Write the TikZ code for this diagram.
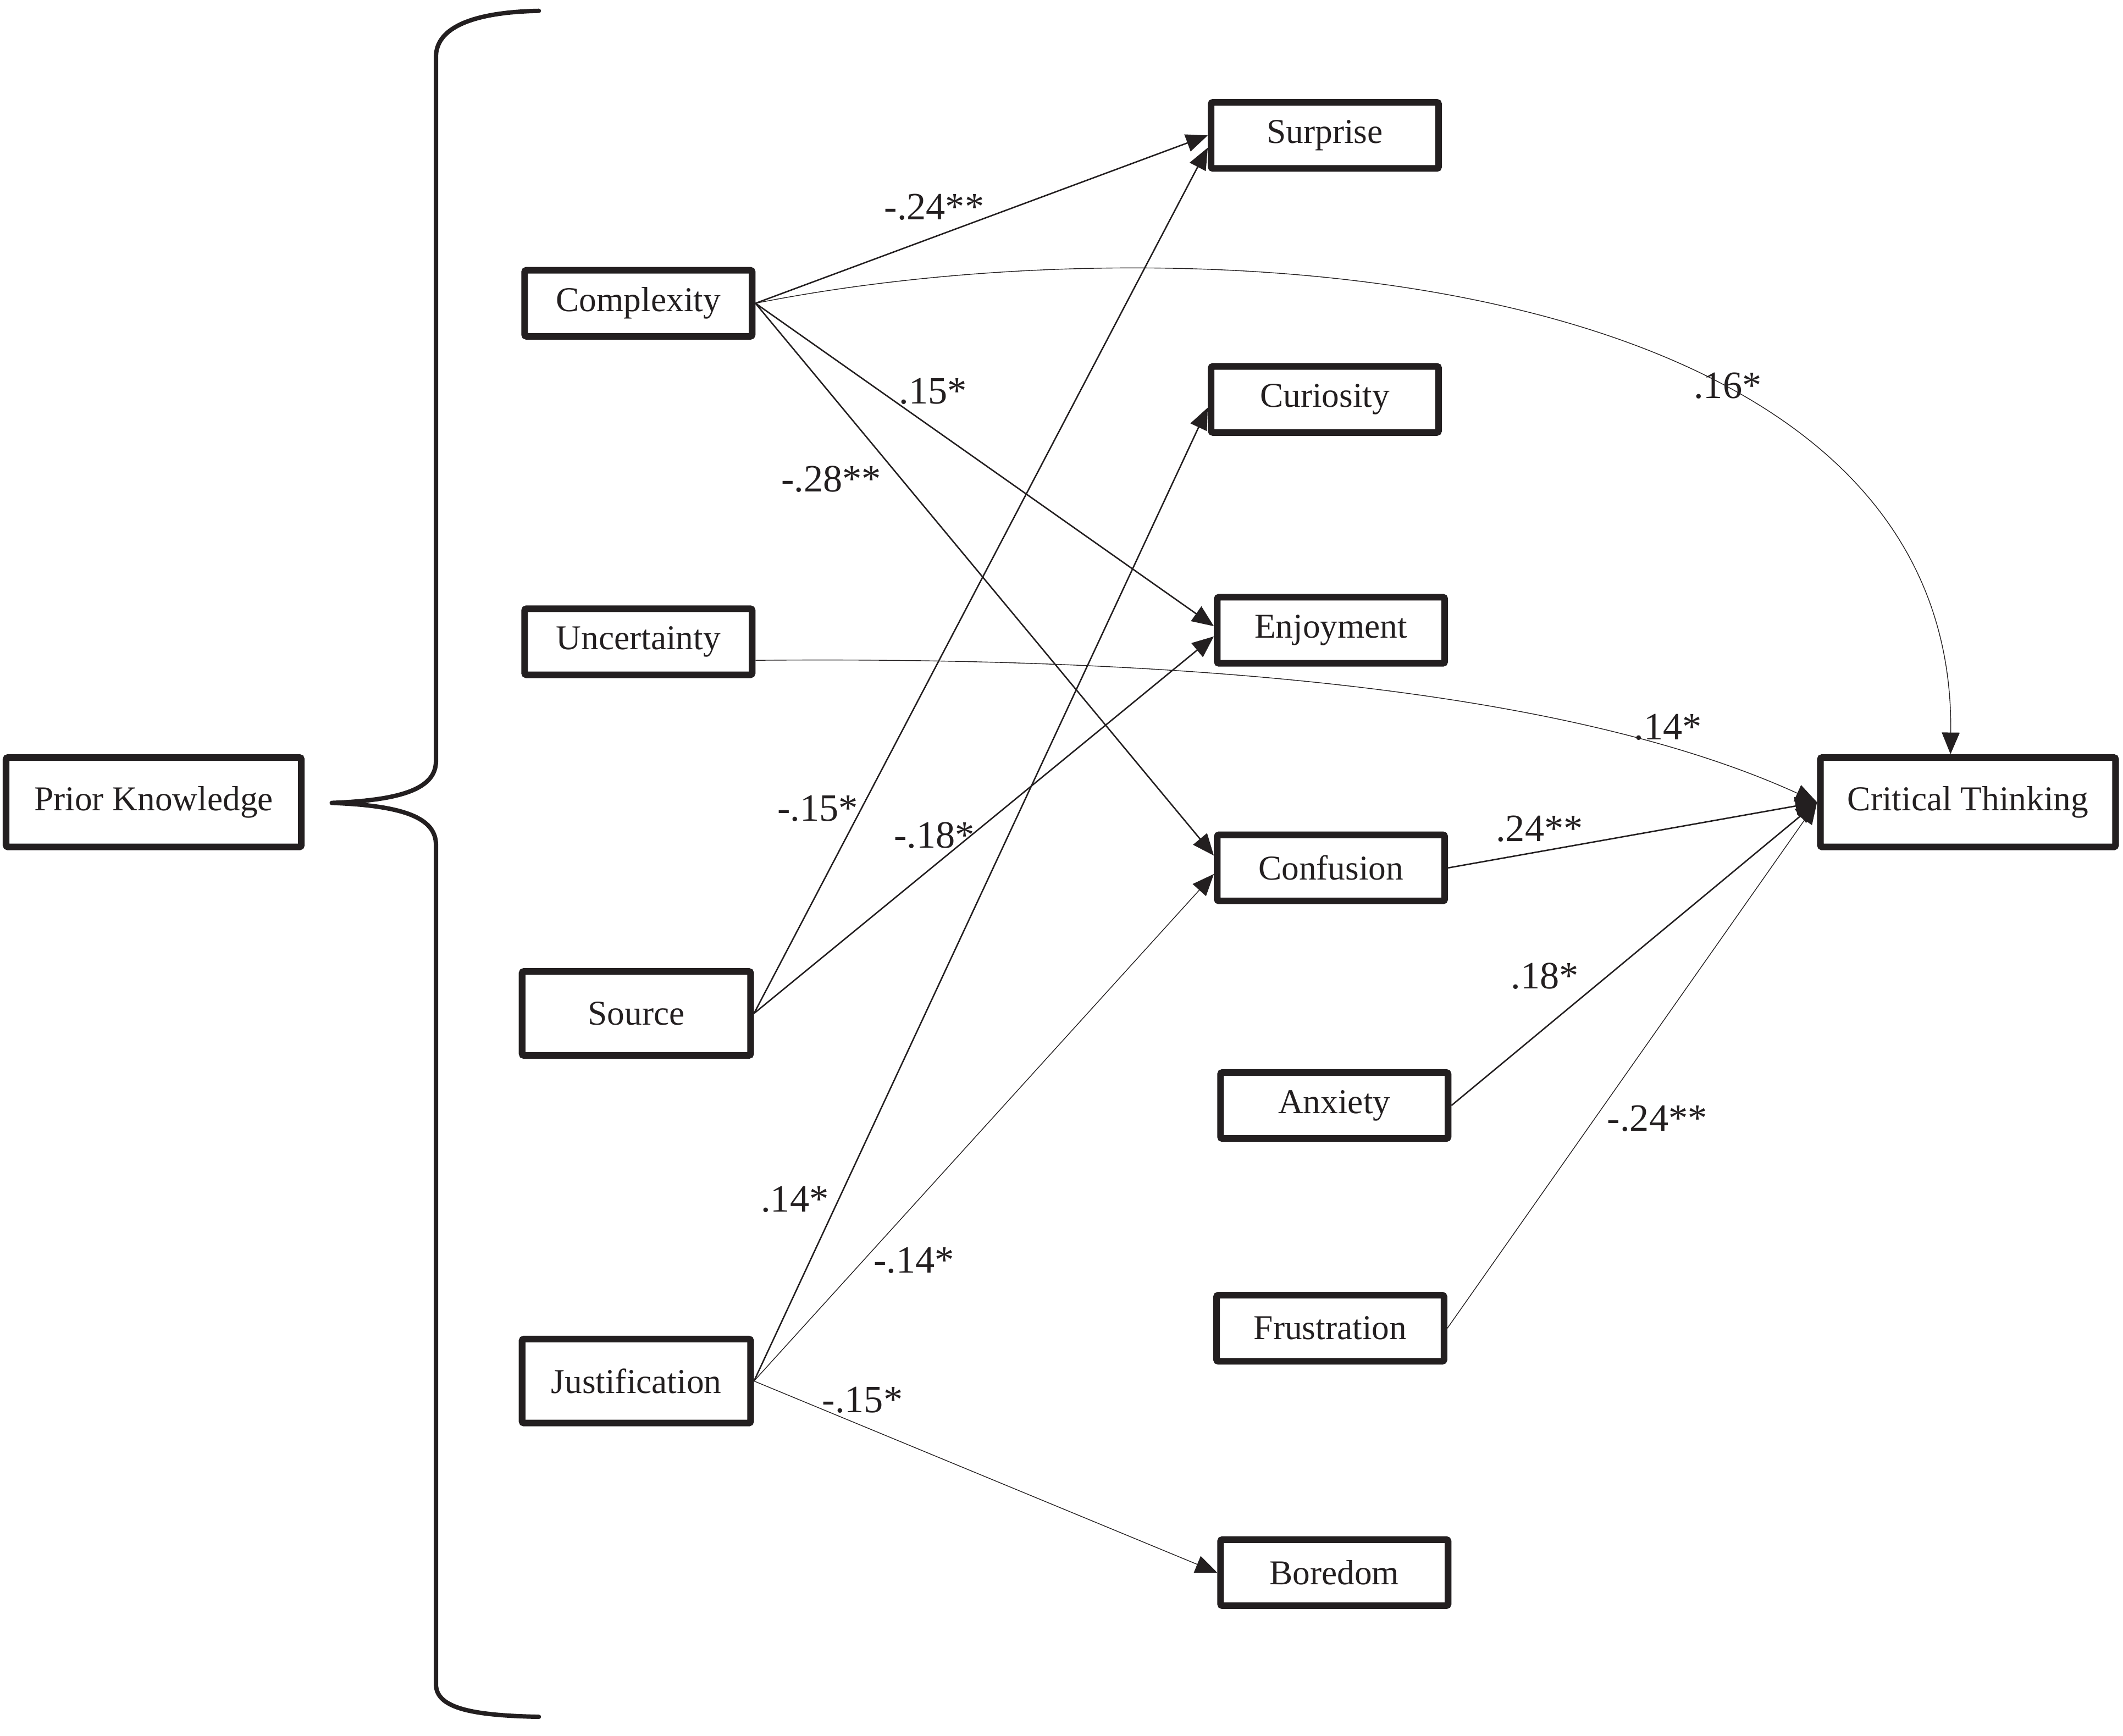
\documentclass[tikz,border=0pt]{standalone}
\usepackage{fontspec}
\setmainfont{Liberation Serif}
\usetikzlibrary{arrows.meta,calc}
\definecolor{ink}{HTML}{231F20}

\begin{document}
\begin{tikzpicture}[x=0.025cm,y=-0.025cm,font=\fontsize{18.3}{22}\selectfont,color=ink,
  bx/.style={draw,line width=3.5pt,rounded corners=1pt,fill=white,inner sep=0pt,minimum width=4.2cm,minimum height=1.22cm},
  tall/.style={bx,minimum width=4.22cm,minimum height=1.55cm},
  big/.style={bx,minimum width=5.45cm,minimum height=1.65cm},
  arr/.style={-{Triangle[length=4mm,width=3.3mm]},line width=.75pt},
  lite/.style={arr,line width=.4pt},
  wt/.style={font=\fontsize{20.3}{24}\selectfont,inner sep=0pt}]
  \useasboundingbox (0,0) rectangle (1568,1282);
  % boxes
  \node[big](pk) at (113.5,592.5){Prior Knowledge};
  \node[bx](comp) at (471.5,224){Complexity};
  \node[bx](unc) at (471.5,474){Uncertainty};
  \node[tall](src) at (470,748.5){Source};
  \node[tall](just) at (470,1020){Justification};
  \node[bx](surp) at (978.5,100){Surprise};
  \node[bx](cur) at (978.5,295){Curiosity};
  \node[bx](enj) at (983,465.5){Enjoyment};
  \node[bx](conf) at (983,641){Confusion};
  \node[bx](anx) at (985.5,816.5){Anxiety};
  \node[bx](frus) at (982.5,981){Frustration};
  \node[bx](bor) at (985.5,1161.5){Boredom};
  \node[big](ct) at (1453.5,592.5){Critical Thinking};
  % brace
  \coordinate (brc) at (245,593);
  \draw[line width=2.3pt,line cap=round,line join=round]
    (398,8) .. controls (350,9) and (322,20) .. (322,42) -- (322,562)
    .. controls (322,582) and (298,591) .. (brc)
    .. controls (298,595) and (322,604) .. (322,624) -- (322,1244)
    .. controls (322,1262) and (350,1267) .. (398,1268);
  % paths
  \draw[arr](comp.east)--(surp.west);
  \draw[arr](comp.east)--(enj.178);
  \draw[arr](comp.east)--(conf.174);
  \draw[lite](comp.east) .. controls (880,160) and (1445,195) .. (ct.110);
  \draw[lite](unc.-9) .. controls (850,485) and (1150,505) .. (ct.west);
  \draw[arr](src.east)--(surp.186);
  \draw[arr](src.east)--(enj.183);
  \draw[arr](just.east)--(cur.184);
  \draw[lite](just.east)--(conf.183);
  \draw[lite](just.east)--(bor.west);
  \draw[arr](conf.east)--(ct.west);
  \draw[arr](anx.east)--(ct.west);
  \draw[lite](frus.east)--(ct.west);
  % weights
  \node[wt](w1) at (690,153){-.24**};
  \node[wt](w2) at (1276,285){.16*};
  \node[wt](w3) at (689,289){.15*};
  \node[wt](w4) at (614,354){-.28**};
  \node[wt](w5) at (1232,537){.14*};
  \node[wt](w6) at (604,597){-.15*};
  \node[wt](w7) at (690,617){-.18*};
  \node[wt](w8) at (1137,612){.24**};
  \node[wt](w9) at (1141,721){.18*};
  \node[wt](w10) at (1224,826){-.24**};
  \node[wt](w11) at (587,886){.14*};
  \node[wt](w12) at (675,931){-.14*};
  \node[wt](w13) at (637,1034){-.15*};
\end{tikzpicture}
\end{document}
